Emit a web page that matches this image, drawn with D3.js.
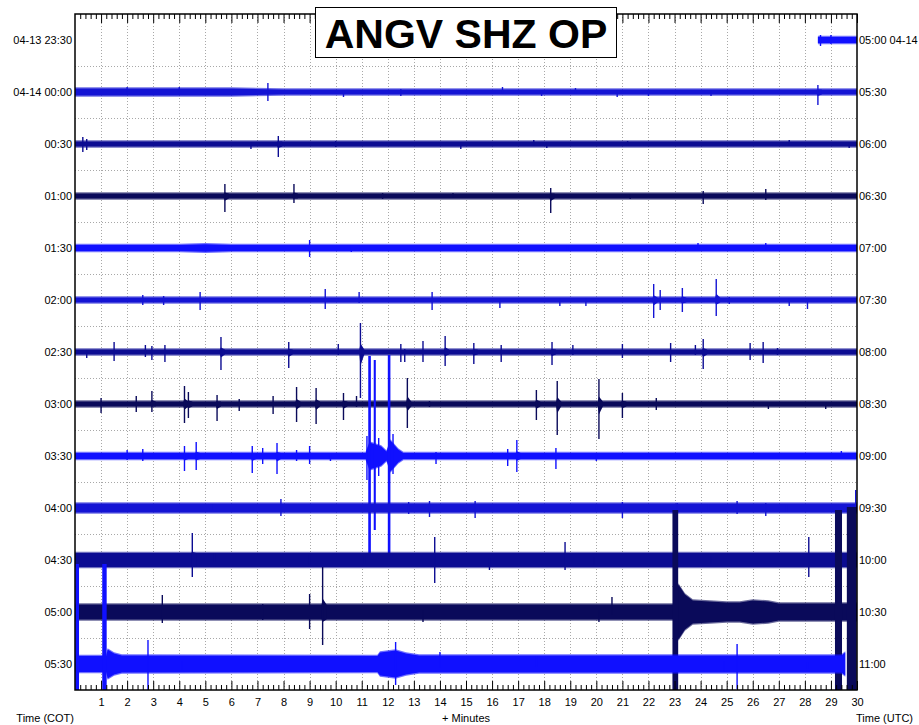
<!DOCTYPE html>
<html>
<head>
<meta charset="utf-8">
<script src="https://cdn.jsdelivr.net/npm/d3@7"></script>
<style>
  body { margin: 0; background: #fff; }
  text { font-family: "Liberation Sans", Arial, sans-serif; font-size: 11px; fill: #000; }
</style>
</head>
<body>
<div id="heli"></div>
<script>
// helicorder ANGV SHZ OP, 30 minute rows
var svgWidth = 919;
var svgHeight = 725;
var plot = {left: 75, right: 857, top: 14, bottom: 690};

var leftLabels = ["04-13 23:30", "04-14 00:00", "00:30", "01:00", "01:30", "02:00", "02:30",
                  "03:00", "03:30", "04:00", "04:30", "05:00", "05:30"];
var rightLabels = ["05:00 04-14", "05:30", "06:00", "06:30", "07:00", "07:30", "08:00",
                   "08:30", "09:00", "09:30", "10:00", "10:30", "11:00"];
var minuteLabels = [1, 2, 3, 4, 5, 6, 7, 8, 9, 10, 11, 12, 13, 14, 15, 16, 17, 18, 19, 20,
                    21, 22, 23, 24, 25, 26, 27, 28, 29, 30];
var rowColors = ["#1010ff", "#1414d4", "#0c0c92", "#0a0a5a",
                 "#1010ff", "#1414d4", "#0c0c92", "#0a0a5a",
                 "#1010ff", "#1414d4", "#0c0c92", "#0a0a5a",
                 "#1010ff"];

// noise envelope per row: [minute, half amplitude]
var rowEnvelopes = [
  [[28.5, 3.5], [30, 3.5]],
  [[0, 4], [6, 4], [8, 3], [30, 3]],
  [[0, 3], [30, 3]],
  [[0, 3], [30, 3]],
  [[0, 3.5], [4, 3.5], [5, 4.3], [6, 3.5], [30, 3.5]],
  [[0, 3], [30, 3]],
  [[0, 3], [30, 3]],
  [[0, 3], [30, 3]],
  [[0, 3.5], [11.15, 3.5], [11.3, 14], [11.75, 10], [11.95, 5], [12.1, 16], [12.4, 7], [12.6, 3.5], [30, 3.5]],
  [[0, 5], [30, 5]],
  [[0, 7.5], [30, 7.5]],
  [[0, 8], [23.0, 8], [23.15, 28], [23.4, 18], [23.7, 12], [25, 10], [25.5, 10], [26, 12],
   [26.6, 11], [27, 9], [30, 9]],
  [[0, 8.5], [1.2, 8.5], [1.25, 15], [1.5, 11], [1.8, 9], [11.6, 8.5], [11.7, 12], [12.3, 14],
   [12.7, 11], [13.2, 9], [29.4, 9], [29.55, 12]]
];

// events per row: [minute, up, down, width in minutes (optional)]
var rowEvents = [
  [[28.6, 5, 6], [29.0, 5, 4]],
  [[2.0, 5, 3], [4.0, 5, 3], [7.4, 9, 9], [10.3, 2, 5], [12.5, 3, 4], [16.4, 5, 2], [17.9, 2, 4],
   [19.2, 4, 2], [20.8, 2, 5], [22.0, 2, 4], [24.4, 2, 4], [28.5, 7, 13]],
  [[0.3, 7, 8], [0.45, 5, 6], [6.75, 2, 5], [7.8, 8, 13], [10.0, 3, 3], [14.8, 2, 5], [17.6, 4, 2],
   [18.1, 2, 4], [21.2, 3, 2], [27.4, 4, 2], [29.7, 2, 4]],
  [[5.75, 12, 16], [8.4, 12, 7], [11.8, 3, 3], [14.5, 3, 2], [18.25, 8, 17], [21.3, 2, 3],
   [24.1, 5, 8], [26.5, 7, 4]],
  [[9.0, 8, 9], [10.6, 2, 4], [18.9, 2, 3], [23.9, 5, 2], [26.5, 5, 2], [28.0, 2, 3]],
  [[2.6, 5, 5], [3.4, 4, 5], [4.8, 8, 10], [9.6, 11, 9], [10.9, 8, 3], [13.7, 8, 10], [16.3, 2, 8],
   [18.6, 2, 6], [19.6, 2, 6], [22.2, 16, 18], [22.45, 10, 10], [23.3, 12, 12], [24.6, 21, 16],
   [25.1, 3, 4], [27.4, 2, 6], [28.1, 2, 9]],
  [[0.45, 2, 6], [1.5, 10, 9], [2.7, 7, 5], [2.95, 6, 8], [3.45, 7, 10], [5.6, 15, 18], [8.2, 10, 16],
   [10.1, 8, 3], [10.95, 29, 46], [12.5, 8, 10], [12.65, 3, 10], [13.35, 11, 10], [14.2, 16, 14],
   [15.3, 9, 12], [16.35, 7, 10], [18.3, 10, 13], [19.1, 7, 3], [21.0, 8, 6], [22.85, 9, 10],
   [23.8, 7, 3], [24.1, 13, 17], [25.9, 9, 8], [26.4, 10, 11], [26.95, 4, 3]],
  [[1.0, 6, 9], [2.35, 8, 8], [2.95, 13, 8], [4.2, 18, 19], [4.35, 12, 14], [5.45, 9, 17],
   [6.3, 5, 7], [7.6, 8, 10], [8.5, 17, 18], [9.25, 16, 20], [10.3, 11, 16], [10.8, 8, 3],
   [12.75, 26, 24], [13.6, 3, 3], [17.7, 14, 16], [18.5, 23, 31], [20.1, 25, 35], [21.0, 11, 14],
   [22.3, 6, 6], [26.6, 2, 5], [28.8, 2, 5]],
  [[2.0, 6, 4], [2.6, 7, 5], [4.2, 10, 15], [4.65, 14, 14], [6.8, 10, 17], [7.2, 8, 8], [7.75, 13, 18],
   [8.5, 6, 5], [9.0, 10, 8], [9.8, 2, 5], [11.2, 20, 24], [11.3, 100, 99, 0.1], [11.5, 96, 74, 0.08],
   [11.65, 18, 20], [12.05, 101, 99, 0.1], [12.2, 22, 18], [13.85, 4, 8], [16.6, 7, 10],
   [16.95, 16, 16], [18.45, 8, 13], [20.0, 2, 5], [29.4, 5, 2]],
  [[0.5, 3, 2], [5.3, 4, 2], [7.9, 9, 8], [12.8, 6, 6], [13.6, 7, 9], [15.35, 7, 10], [20.0, 4, 3],
   [21.0, 6, 10], [23.1, 5, 2], [24.3, 4, 2], [25.4, 7, 6], [26.5, 5, 8], [27.3, 3, 4],
   [29.95, 18, 4]],
  [[4.5, 27, 17], [5.35, 7, 2], [9.0, 5, 5], [11.1, 4, 4], [13.8, 23, 23], [15.9, 2, 10],
   [18.8, 18, 10], [19.9, 3, 5], [24.4, 4, 4], [28.15, 23, 17]],
  [[3.35, 17, 11], [7.2, 8, 8], [9.0, 18, 17], [9.5, 45, 33], [13.35, 2, 10], [20.1, 2, 10],
   [20.6, 15, 3], [23.03, 102, 80, 0.22], [29.29, 102, 80, 0.27], [29.8, 105, 80, 0.38]],
  [[0.08, 100, 30, 0.15], [1.13, 100, 30, 0.17], [2.8, 24, 30], [4.1, 3, 6], [12.3, 22, 21],
   [14.0, 12, 4], [17.7, 8, 3], [24.9, 3, 8], [25.4, 20, 25], [28.1, 2, 5]]
];

var svg = d3.select("#heli")
    .append("svg")
    .attr("width", svgWidth)
    .attr("height", svgHeight);

svg.append("rect").attr("width", svgWidth).attr("height", svgHeight).attr("fill", "#fff");

var xScale = d3.scaleLinear().domain([0, 30]).range([plot.left, plot.right]);
var rowY = d3.scaleLinear().domain([0, 13]).range([plot.top, plot.bottom]);
var amp = d3.scaleLinear().domain([-26, 26]).range([26, -26]);

svg.append("clipPath").attr("id", "plotClip")
  .append("rect")
    .attr("x", plot.left).attr("y", plot.top)
    .attr("width", plot.right - plot.left).attr("height", plot.bottom - plot.top);

// dotted grid
var grid = svg.append("g")
    .attr("stroke", "#a8a8a8")
    .attr("stroke-width", 1)
    .attr("stroke-dasharray", "1,2");

grid.selectAll(".vgrid")
  .data(minuteLabels.slice(0, 29))
  .enter()
  .append("line")
    .attr("x1", d => Math.round(xScale(d)) + 0.5)
    .attr("x2", d => Math.round(xScale(d)) + 0.5)
    .attr("y1", plot.top)
    .attr("y2", plot.bottom);

grid.selectAll(".hgrid")
  .data(leftLabels.slice(1))
  .enter()
  .append("line")
    .attr("x1", plot.left)
    .attr("x2", plot.right)
    .attr("y1", (d, i) => Math.round(rowY(i + 1)) + 0.5)
    .attr("y2", (d, i) => Math.round(rowY(i + 1)) + 0.5);

// traces
var traces = svg.append("g").attr("clip-path", "url(#plotClip)");

rowEnvelopes.forEach(function(env, i) {
  var cy = rowY(i + 0.5);
  var color = rowColors[i];
  var g = traces.append("g");
  var baseAt = d3.scaleLinear().domain(env.map(d => d[0])).range(env.map(d => d[1])).clamp(true);

  // soft edge and solid core of the noise band
  [[0.8, 0.6], [-0.5, 1]].forEach(function(layer) {
    var band = d3.area()
        .x(d => xScale(d[0]))
        .y0(d => cy + amp(-(d[1] + layer[0])))
        .y1(d => cy + amp(d[1] + layer[0]));
    g.append("path")
      .datum(env)
      .attr("d", band)
      .attr("fill", color)
      .attr("fill-opacity", layer[1]);
  });

  rowEvents[i].forEach(function(e) {
    var m = e[0], up = e[1], dn = e[2], w = e[3];
    if (w) {
      g.append("rect")
        .attr("x", xScale(m - w / 2))
        .attr("width", xScale(w) - xScale(0))
        .attr("y", cy + amp(up))
        .attr("height", amp(-dn) - amp(up))
        .attr("fill", color);
      return;
    }
    var base = baseAt(m) - 0.5;
    var peakUp = up * 0.3, peakDn = dn * 0.3;
    if (Math.max(peakUp, peakDn) > base + 1) {
      var coda = [[m - 0.04, base, base], [m, Math.max(base, peakUp), Math.max(base, peakDn)],
                  [m + 0.15, base, base]];
      g.append("path")
        .datum(coda)
        .attr("d", d3.area()
          .x(d => xScale(d[0]))
          .y0(d => cy + amp(-d[2]))
          .y1(d => cy + amp(d[1])))
        .attr("fill", color);
    }
    g.append("line")
      .attr("x1", xScale(m)).attr("x2", xScale(m))
      .attr("y1", cy + amp(up))
      .attr("y2", cy + amp(-dn))
      .attr("stroke", color)
      .attr("stroke-width", 1.4);
  });
});

// ticks every 0.2 minute, inside the frame
var minorTicks = d3.range(0, 150).map(d => d / 5).filter(d => d % 1 !== 0);
var topMinor = d3.axisBottom(xScale).tickValues(minorTicks).tickSize(5).tickFormat("");
var topMajor = d3.axisBottom(xScale).tickValues(minuteLabels).tickSize(9).tickFormat("");
var botMinor = d3.axisTop(xScale).tickValues(minorTicks).tickSize(5).tickFormat("");
var botMajor = d3.axisTop(xScale).tickValues(minuteLabels).tickSize(9).tickFormat("");

[[topMinor, plot.top], [topMajor, plot.top], [botMinor, plot.bottom], [botMajor, plot.bottom]]
  .forEach(function(a) {
    var ax = svg.append("g")
        .attr("transform", `translate(0, ${a[1]})`)
        .call(a[0]);
    ax.select(".domain").remove();
    ax.selectAll("line").attr("stroke", "#000");
  });

// minute labels
var bottomLabels = svg.append("g")
    .attr("transform", `translate(0, ${plot.bottom})`)
    .call(d3.axisBottom(xScale).tickValues(minuteLabels).tickSize(0).tickPadding(8));
bottomLabels.select(".domain").remove();
bottomLabels.selectAll("text")
    .style("font-family", "\"Liberation Sans\", Arial, sans-serif")
    .style("font-size", "11px");

// frame
svg.append("rect")
    .attr("x", plot.left)
    .attr("y", plot.top)
    .attr("width", plot.right - plot.left)
    .attr("height", plot.bottom - plot.top)
    .attr("fill", "none")
    .attr("stroke", "#000")
    .attr("stroke-width", 1.5);

// row labels
svg.selectAll(".leftLab")
  .data(leftLabels)
  .enter()
  .append("text")
    .attr("x", plot.left - 3)
    .attr("y", (d, i) => rowY(i + 0.5) + 4)
    .attr("text-anchor", "end")
    .text(d => d);

svg.selectAll(".rightLab")
  .data(rightLabels)
  .enter()
  .append("text")
    .attr("x", plot.right + 2)
    .attr("y", (d, i) => rowY(i + 0.5) + 4)
    .text(d => d);

// axis titles
svg.append("text").attr("x", plot.left - 1).attr("y", 722).attr("text-anchor", "end").text("Time (COT)");
svg.append("text").attr("x", (plot.left + plot.right) / 2).attr("y", 722).attr("text-anchor", "middle").text("+ Minutes");
svg.append("text").attr("x", plot.right - 1).attr("y", 722).text("Time (UTC)");

// title box
svg.append("rect")
    .attr("x", 315.5)
    .attr("y", 7.5)
    .attr("width", 301)
    .attr("height", 50)
    .attr("fill", "#fff")
    .attr("stroke", "#000")
    .attr("stroke-width", 1);

svg.append("text")
    .attr("x", 466)
    .attr("y", 48)
    .attr("text-anchor", "middle")
    .style("font-size", "41px")
    .style("font-weight", "bold")
    .text("ANGV SHZ OP");
</script>
</body>
</html>
